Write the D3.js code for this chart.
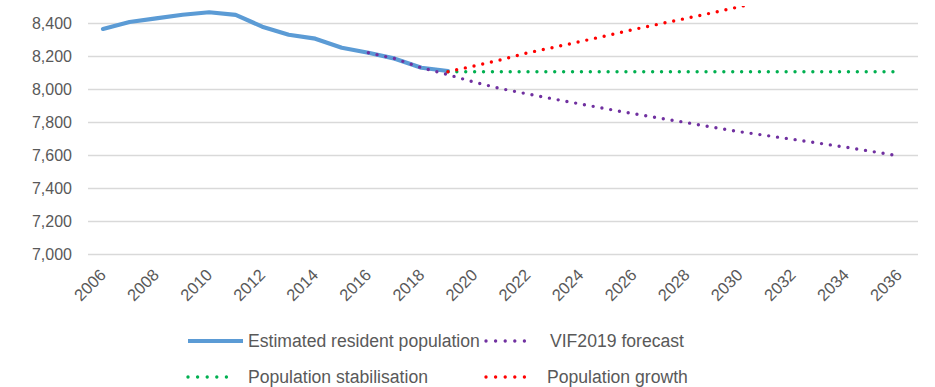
<!DOCTYPE html>
<html><head><meta charset="utf-8">
<script src="https://cdn.jsdelivr.net/npm/d3@7/dist/d3.min.js"></script>
<style>body{margin:0;background:#fff}svg{display:block}text{font-family:"Liberation Sans",Arial,sans-serif;fill:#595959}</style>
</head><body><svg id="c" width="935" height="387"></svg>
<script>
const years = d3.range(2006, 2037);
const yTicks = [7000, 7200, 7400, 7600, 7800, 8000, 8200, 8400];
const erpYears = [2006,2007,2008,2009,2010,2011,2012,2013,2014,2015,2016,2017,2018,2019];
const erpValues = [8367,8409,8431,8453,8468,8452,8381,8332,8308,8253,8223,8187,8132,8112];
const vifYears = [2016,2017,2018,2019,2020,2021,2022,2023,2024,2025,2026,2027,2028,2029,2030,2031,2032,2033,2034,2035,2036];
const vifValues = [8223,8187,8132,8090,8044,8005,7973,7942,7912,7882,7853,7826,7799,7771,7744,7721,7698,7674,7650,7624,7597];
const stabYears = [2019,2020,2021,2022,2023,2024,2025,2026,2027,2028,2029,2030,2031,2032,2033,2034,2035,2036];
const stabValues = [8108,8108,8108,8108,8108,8108,8108,8108,8108,8108,8108,8108,8108,8108,8108,8108,8108,8108];
const growYears = [2019,2020,2021,2022,2023,2024,2025,2026,2027,2028,2029,2030,2031,2032,2033,2034,2035,2036];
const growValues = [8108,8143,8180,8222,8256,8291,8327,8364,8398,8432,8466,8502,8537,8573,8609,8645,8680,8715];
const seriesNames = ["Estimated resident population","VIF2019 forecast","Population stabilisation","Population growth"];
const colors = ["#5B9BD5","#7030A0","#00B050","#FF0000"];

const svg = d3.select("#c");
const x = d3.scalePoint().domain(years).range([103, 899]);
const y = d3.scaleLinear().domain([7000, 8500]).range([254.5, 7]);
const gridL = 88, gridR = 918;

svg.append("g").selectAll("line").data(yTicks).join("line")
  .attr("x1", gridL).attr("x2", gridR)
  .attr("y1", d => y(d)).attr("y2", d => y(d))
  .attr("stroke", "#D9D9D9").attr("stroke-width", 1.3);

svg.append("g").selectAll("text").data(yTicks).join("text")
  .attr("x", 72).attr("y", d => y(d)).attr("dy", "0.36em")
  .attr("text-anchor", "end").style("font-size", "16px")
  .text(d => d3.format(",")(d));

svg.append("g").selectAll("text").data(years.filter(d => d % 2 === 0)).join("text")
  .attr("text-anchor", "end").style("font-size", "16.5px")
  .attr("transform", d => `translate(${x(d) + 4},${276}) rotate(-45)`)
  .text(d => d);

svg.append("defs").append("clipPath").attr("id", "clip")
  .append("rect").attr("x", 0).attr("y", 6).attr("width", 935).attr("height", 300);

const line = d3.line().x(d => x(d[0])).y(d => y(d[1]));
const g = svg.append("g").attr("clip-path", "url(#clip)");
const data = [
  d3.zip(erpYears, erpValues),
  d3.zip(vifYears, vifValues),
  d3.zip(stabYears, stabValues),
  d3.zip(growYears, growValues)
];
data.forEach((pts, i) => {
  const p = g.append("path").attr("d", line(pts)).attr("fill", "none")
    .attr("stroke", colors[i]).attr("stroke-linecap", "round");
  if (i === 0) p.attr("stroke-width", 4.2).attr("stroke-linejoin", "round");
  else p.attr("stroke-width", 3.4).attr("stroke-dasharray", "0 8.9");
});

const leg = [
  {x0: 188, x1: 243, tx: 248, cy: 341},
  {x0: 486, x1: 534, tx: 550, cy: 341},
  {x0: 188, x1: 236, tx: 248, cy: 377},
  {x0: 486, x1: 534, tx: 547, cy: 377}
];
leg.forEach((l, i) => {
  const ln = svg.append("line").attr("x1", l.x0).attr("x2", l.x1).attr("y1", l.cy).attr("y2", l.cy)
    .attr("stroke", colors[i]).attr("stroke-linecap", "round");
  if (i === 0) ln.attr("stroke-width", 4.2).attr("stroke-linecap", "butt");
  else ln.attr("stroke-width", 3.4).attr("stroke-dasharray", "0 9.6");
  svg.append("text").attr("x", l.tx).attr("y", l.cy).attr("dy", "0.36em")
    .style("font-size", "17.6px").text(seriesNames[i]);
});
</script></body></html>
